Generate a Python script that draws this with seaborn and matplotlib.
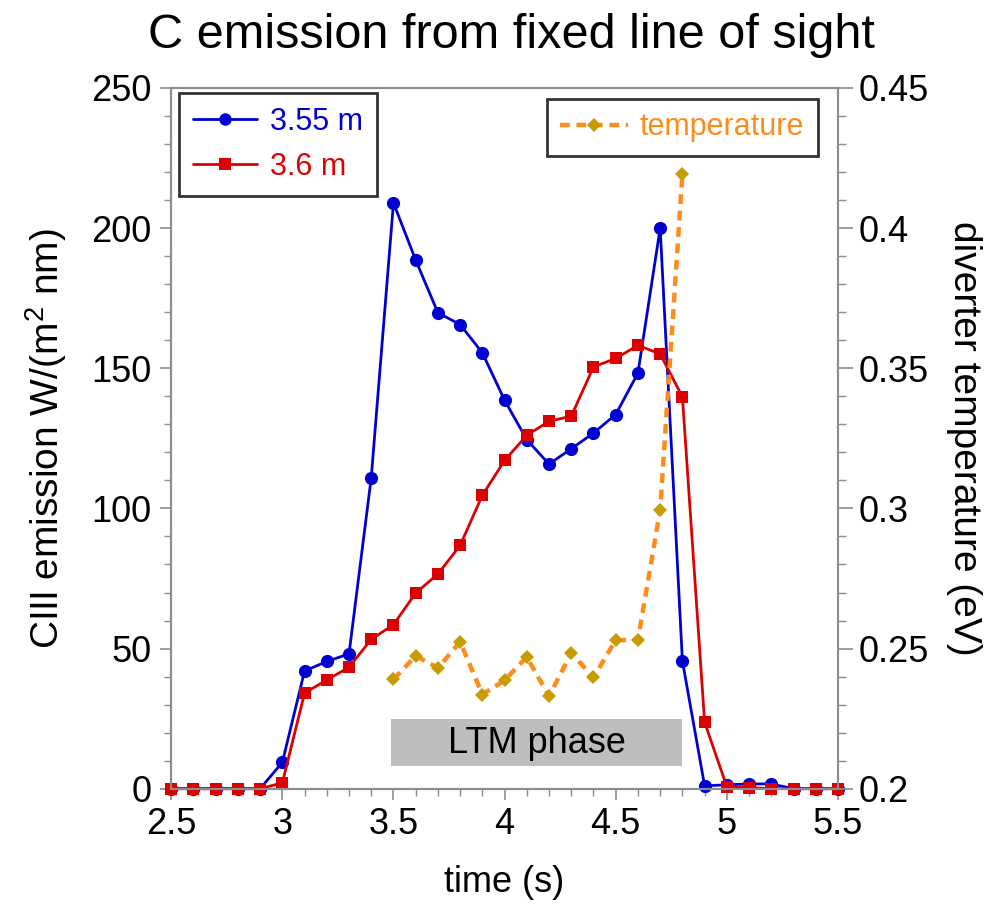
import numpy as np
import pandas as pd
import matplotlib
matplotlib.use("Agg")
import matplotlib.pyplot as plt
from matplotlib.patches import Rectangle
from matplotlib.lines import Line2D
from matplotlib.ticker import MultipleLocator, FuncFormatter
import seaborn as sns

# ---- data ----
time = [2.5, 2.6, 2.7, 2.8, 2.9, 3.0, 3.1, 3.2, 3.3, 3.4, 3.5, 3.6, 3.7, 3.8, 3.9, 4.0,
        4.1, 4.2, 4.3, 4.4, 4.5, 4.6, 4.7, 4.8, 4.9, 5.0, 5.1, 5.2, 5.3, 5.4, 5.5]
emis_355 = [0, 0, 0, 0, 0, 9.4, 42, 45.4, 48.1, 111, 209, 188.6, 169.8, 165.6, 155.5, 138.6,
            124.5, 115.8, 121.3, 126.9, 133.5, 148.3, 200, 45.6, 1.0, 1.4, 1.7, 1.7, 0, 0, 0]
emis_360 = [0, 0, 0, 0, 0, 2.1, 34.1, 38.8, 43.3, 53.3, 58.5, 69.8, 76.6, 86.8, 104.7, 117.1,
            126.1, 131.1, 132.9, 150.5, 153.5, 158.2, 155.1, 139.8, 23.7, 0.7, 0.4, 0, 0, 0, 0]
temp_time = [3.5, 3.6, 3.7, 3.8, 3.9, 4.0, 4.1, 4.2, 4.3, 4.4, 4.5, 4.6, 4.7, 4.8]
temperature = [0.239, 0.2474, 0.2431, 0.2524, 0.2336, 0.2387, 0.247, 0.233, 0.2484, 0.2397,
               0.253, 0.253, 0.2996, 0.4194]
labels = ["3.55 m", "3.6 m", "temperature"]
ltm_start, ltm_end = 3.49, 4.80

# ---- style ----
sns.set_style("white")
plt.rcParams['font.family'] = ['Liberation Sans', 'DejaVu Sans']
plt.rcParams['mathtext.fontset'] = 'custom'
plt.rcParams['mathtext.rm'] = 'Liberation Sans'
plt.rcParams['mathtext.it'] = 'Liberation Sans'
plt.rcParams['text.color'] = 'black'
plt.rcParams['axes.labelcolor'] = 'black'
plt.rcParams['xtick.color'] = 'black'
plt.rcParams['ytick.color'] = 'black'

BLUE = "#0000D0"
RED = "#DD0000"
ORANGE = "#FF8C1A"
GOLD = "#C89B00"
GRAY = "#8C8C8C"

fig = plt.figure(figsize=(9.84, 9.10), dpi=100)
ax = fig.add_axes([0.174, 0.1333, 0.6776, 0.770])
ax2 = ax.twinx()

df = pd.DataFrame({"time": time, "e355": emis_355, "e360": emis_360})
dft = pd.DataFrame({"time": temp_time, "temp": temperature})

sns.lineplot(data=df, x="time", y="e355", ax=ax, color=BLUE, linewidth=2.0,
             marker="o", markersize=9.5, markeredgecolor=BLUE, markeredgewidth=0,
             legend=False, clip_on=False)
sns.lineplot(data=df, x="time", y="e360", ax=ax, color=RED, linewidth=2.0,
             marker="s", markersize=9, markeredgecolor=RED, markeredgewidth=0,
             legend=False, clip_on=False)
sns.lineplot(data=dft, x="time", y="temp", ax=ax2, color=ORANGE, linewidth=3.2,
             linestyle=(0, (2.2, 1.5)), marker="D", markersize=7.5,
             markerfacecolor=GOLD, markeredgecolor=GOLD, markeredgewidth=0,
             legend=False)

# LTM phase box
ax.add_patch(Rectangle((ltm_start, 8.1), ltm_end - ltm_start, 16.8,
                       facecolor="#BEBEBE", edgecolor="none", zorder=1))
ax.text((ltm_start + ltm_end) / 2, 16.3, "LTM phase", ha="center", va="center",
        fontsize=26, color="black", zorder=2)

# axes limits/ticks
ax.set_xlim(2.5, 5.5)
ax.set_ylim(0, 250)
ax2.set_ylim(0.2, 0.45)
ax.xaxis.set_major_locator(MultipleLocator(0.5))
ax.xaxis.set_minor_locator(MultipleLocator(0.1))
ax.yaxis.set_major_locator(MultipleLocator(50))
ax.yaxis.set_minor_locator(MultipleLocator(10))
ax2.yaxis.set_major_locator(MultipleLocator(0.05))
ax2.yaxis.set_minor_locator(MultipleLocator(0.01))
fmt = FuncFormatter(lambda v, p: f"{v:g}")
ax.xaxis.set_major_formatter(fmt)
ax2.yaxis.set_major_formatter(FuncFormatter(lambda v, p: f"{round(v, 3):g}"))

for a in (ax, ax2):
    for s in a.spines.values():
        s.set_color(GRAY)
        s.set_linewidth(1.5)
ax.tick_params(axis="both", which="major", direction="out", length=8, width=1.2,
               color=GRAY, labelcolor="black", labelsize=26, bottom=True, left=True)
ax.tick_params(axis="both", which="minor", direction="out", length=5, width=1.0,
               color=GRAY, bottom=True, left=True)
ax2.tick_params(axis="y", which="major", direction="out", length=11, width=1.2,
                color=GRAY, labelcolor="black", labelsize=26, right=True, pad=4)
ax2.tick_params(axis="y", which="minor", direction="out", length=6, width=1.0,
                color=GRAY, right=True)
ax.tick_params(axis="x", pad=5)
ax.tick_params(axis="y", pad=6)

ax.set_xlabel("time (s)", fontsize=26, labelpad=17, color="black")
ax.set_ylabel("CIII emission W/(m$^2$ nm)", fontsize=28, labelpad=16, color="black")
ax2.set_ylabel("diverter temperature (eV)", fontsize=28, rotation=270, labelpad=38,
               color="black")
ax.set_title("C emission from fixed line of sight", fontsize=35, pad=29, color="black",
             x=0.51)

# legends
h1 = [Line2D([], [], color=BLUE, lw=2.0, marker="o", markersize=9, markeredgewidth=0),
      Line2D([], [], color=RED, lw=2.0, marker="s", markersize=8.5, markeredgewidth=0)]
leg1 = ax2.legend(h1, labels[:2], loc="upper left", bbox_to_anchor=(0.012, 0.993),
                  fontsize=22, frameon=True, fancybox=False, edgecolor="black",
                  handlelength=2.1, handletextpad=0.42, borderpad=0.45,
                  labelspacing=0.5, borderaxespad=0)
leg1.get_frame().set_linewidth(2.0)
for t, c in zip(leg1.get_texts(), [BLUE, RED]):
    t.set_color(c)
ax2.add_artist(leg1)

h2 = [Line2D([], [], color=ORANGE, lw=3.2, linestyle=(0, (2.2, 1.5)), marker="D",
             markersize=7.5, markerfacecolor=GOLD, markeredgewidth=0)]
leg2 = ax2.legend(h2, labels[2:], loc="upper right", bbox_to_anchor=(0.97, 0.985),
                  fontsize=22, frameon=True, fancybox=False, edgecolor="black",
                  handlelength=2.2, handletextpad=0.4, borderpad=0.45, borderaxespad=0)
leg2.get_frame().set_linewidth(2.0)
leg2.get_texts()[0].set_color(ORANGE)

fig.savefig("out.png", dpi=100, facecolor="white")
